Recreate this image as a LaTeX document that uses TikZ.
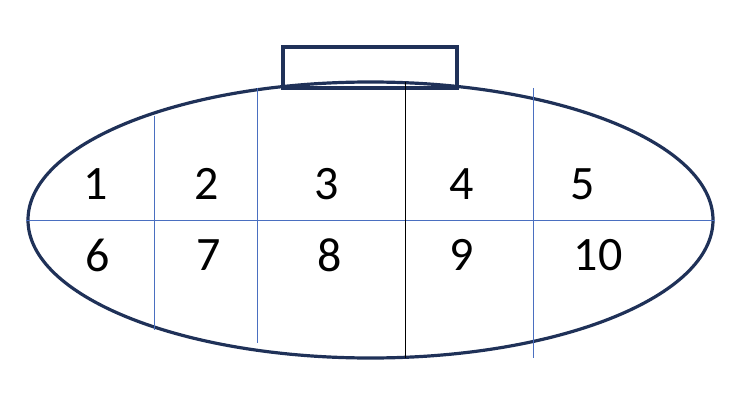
\documentclass[tikz,border=0pt]{standalone}
\usepackage{fontspec}
\setmainfont{Carlito}
\usetikzlibrary{shapes.geometric}
\definecolor{navy}{HTML}{1F3158}
\definecolor{gridblue}{HTML}{4A6FC0}
\begin{document}
\begin{tikzpicture}[
		x=1pt, y=-1pt,
		shell/.style = {draw=navy, line width=3.2pt, ellipse, inner sep=0pt, minimum width=685pt, minimum height=276pt},
		latch/.style = {draw=navy, line width=3.2pt, rectangle, inner sep=0pt, minimum width=174pt, minimum height=41pt},
		num/.style   = {font=\fontsize{48}{58}\selectfont, inner sep=0pt},
		grid/.style  = {draw=gridblue, line width=1pt}]
		
		\useasboundingbox (0,0) rectangle (739,401);
		
		% outer body and the latch on top
		\node[shell] (plug) at (370.5,220) {};
		\node[latch] (tab) at (370,67.5) {};
		
		% dividing lines
		\draw[grid] (plug.west) -- (plug.east);
		\coordinate (a1) at (154,116); \coordinate (a2) at (154,330);
		\coordinate (b1) at (257,88);  \coordinate (b2) at (257,343);
		\coordinate (c1) at (405,82);  \coordinate (c2) at (405,358);
		\coordinate (d1) at (533,88);  \coordinate (d2) at (533,358);
		\foreach \value in {a,b,d}
		\draw[grid] (\value1) -- (\value2);
		\draw[black, line width=1pt] (c1) -- (c2);
		
		% cavity numbers
		\foreach \n/\x/\y in {1/96/184, 2/207/184, 3/327/184, 4/462/184, 5/583/184,
			6/98/255, 7/209/255, 8/330/255, 9/462/255, 10/598/255}
		\node[num] (n\n) at (\x,\y) {\n};
		\end{tikzpicture}
\end{document}
